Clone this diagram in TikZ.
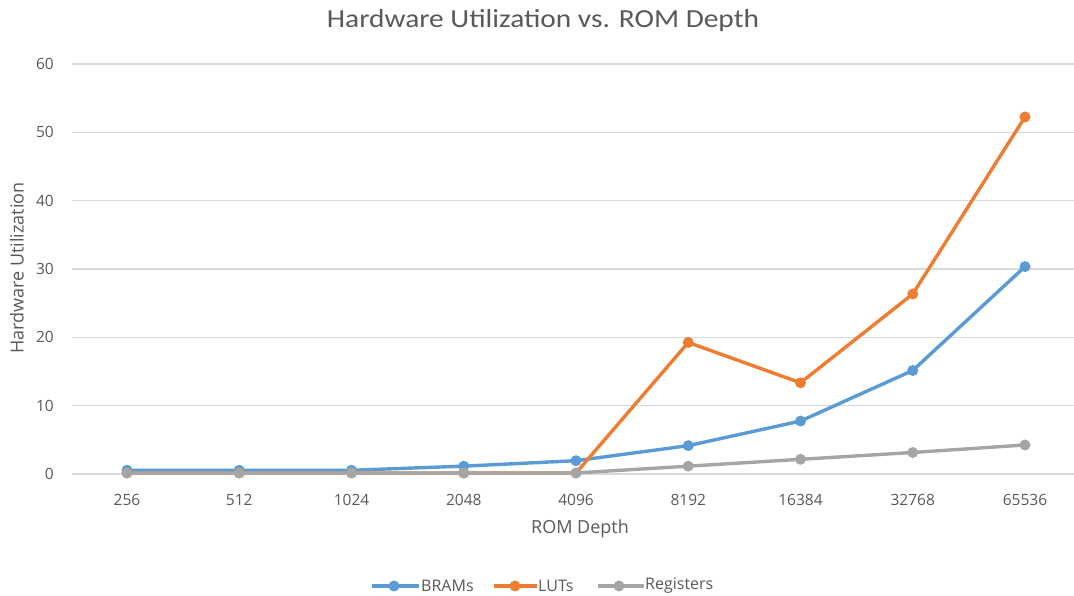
\documentclass[tikz,border=0pt]{standalone}
\usepackage{fontspec}
\setmainfont{Open Sans}
\newfontfamily\titlefont[FakeStretch=1.13]{Carlito}
\definecolor{bramblue}{HTML}{5B9BD5}
\definecolor{lutorange}{HTML}{ED7D31}
\definecolor{reggray}{HTML}{A5A5A5}
\definecolor{gridgray}{HTML}{D9D9D9}
\definecolor{textgray}{HTML}{595959}
\tikzset{
  gridline/.style={draw=gridgray, line width=1.3pt},
  ticklabel/.style={text=textgray, font=\fontsize{15.5}{18}\selectfont, inner sep=0pt},
  axistitle/.style={text=textgray, font=\fontsize{18}{21}\selectfont, inner sep=0pt},
  series/.style={line width=3.4pt, line join=round, line cap=round},
  dot/.style={circle, fill=#1, minimum size=11pt, inner sep=0pt},
  legendtext/.style={text=textgray, font=\fontsize{16}{18}\selectfont, inner sep=0pt, anchor=west},
}
\begin{document}
\begin{tikzpicture}[x=1pt,y=1pt]
\useasboundingbox (0,0) rectangle (1074,596);

% title
\node[text=textgray, font=\titlefont\fontsize{26}{30}\selectfont, inner sep=0pt] (title) at (543,575) {Hardware Utilization vs. ROM Depth};

% horizontal grid and value labels
\foreach \v in {0,10,...,60} {
  \draw[gridline] (72,{122+6.833*\v}) -- (1074,{122+6.833*\v});
  \node[ticklabel, anchor=east] (ytick\v) at (54,{122+6.833*\v}) {\v};
}

% category labels
\foreach \c [count=\i from 0] in {256,512,1024,2048,4096,8192,16384,32768,65536} {
  \node[ticklabel] (xtick\c) at ({127+112.25*\i},96) {\c};
}

% axis titles
\node[axistitle] (xtitle) at (580,67) {ROM Depth};
\node[axistitle, rotate=90] (ytitle) at (17,328) {Hardware Utilization};

% data series in value coordinates
\begin{scope}[shift={(127,123)}, x=112.25pt, y=6.833pt]
  \foreach \v [count=\i from 0] in {0.4,0.4,0.4,1.0,1.8,4.0,7.6,15.0,30.2} {
    \coordinate (b\i) at (\i,\v);
  }
  \foreach \v [count=\i from 0] in {0,0,0,0,0,19.1,13.2,26.2,52.1} {
    \coordinate (l\i) at (\i,\v);
  }
  \foreach \v [count=\i from 0] in {0,0,0,0,0,1.0,2.0,3.0,4.1} {
    \coordinate (r\i) at (\i,\v);
  }
\end{scope}

% BRAMs
\draw[series, bramblue] (b0) -- (b1) -- (b2) -- (b3) -- (b4) -- (b5) -- (b6) -- (b7) -- (b8);
\foreach \i in {0,...,8} \node[dot=bramblue] (bm\i) at (b\i) {};
% LUTs
\draw[series, lutorange] (l0) -- (l1) -- (l2) -- (l3) -- (l4) -- (l5) -- (l6) -- (l7) -- (l8);
\foreach \i in {0,...,8} \node[dot=lutorange] (lm\i) at (l\i) {};
% Registers
\draw[series, reggray] (r0) -- (r1) -- (r2) -- (r3) -- (r4) -- (r5) -- (r6) -- (r7) -- (r8);
\foreach \i in {0,...,8} \node[dot=reggray] (rm\i) at (r\i) {};

% legend
\coordinate (lgb1) at (372,10); \coordinate (lgb2) at (419,10);
\draw[series, bramblue, line cap=butt] (lgb1) -- (lgb2);
\node[dot=bramblue] (lgbm) at (394,10) {};
\node[legendtext] (lgbt) at (421,10) {BRAMs};
\coordinate (lgl1) at (494,10); \coordinate (lgl2) at (537,10);
\draw[series, lutorange, line cap=butt] (lgl1) -- (lgl2);
\node[dot=lutorange] (lglm) at (515,10) {};
\node[legendtext] (lglt) at (538,10) {LUTs};
\coordinate (lgr1) at (598,10); \coordinate (lgr2) at (644,10);
\draw[series, reggray, line cap=butt] (lgr1) -- (lgr2);
\node[dot=reggray] (lgrm) at (619,10) {};
\node[legendtext] (lgrt) at (645,10) {Registers};
\end{tikzpicture}
\end{document}
